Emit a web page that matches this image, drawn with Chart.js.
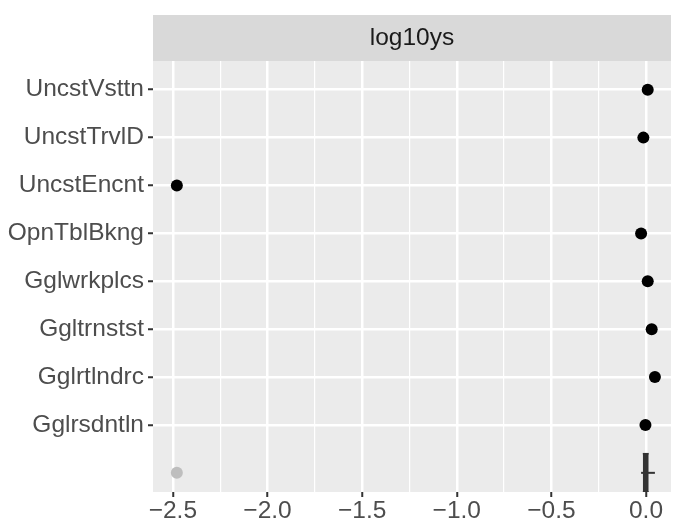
<!DOCTYPE html>
<html>
<head>
<meta charset="utf-8">
<script src="https://cdn.jsdelivr.net/npm/chart.js@4/dist/chart.umd.min.js"></script>
<style>
  html, body { margin: 0; padding: 0; background: #fff; }
  #wrap { width: 677px; height: 530px; }
</style>
</head>
<body>
<div id="wrap"><canvas id="chart"></canvas></div>
<script>
// categories top to bottom, and their log10 values
const categories = ['UncstVsttn', 'UncstTrvlD', 'UncstEncnt', 'OpnTblBkng', 'Gglwrkplcs', 'Ggltrnstst', 'Gglrtlndrc', 'Gglrsdntln'];
const values = [0.009, -0.014, -2.479, -0.026, 0.009, 0.030, 0.047, -0.003];
const xTicks = [-2.5, -2.25, -2.0, -1.75, -1.5, -1.25, -1.0, -0.75, -0.5, -0.25, 0.0];
const stripLabel = 'log10ys';

const FONT = 'Liberation Sans, Arial, sans-serif';
const FS = 24.5;

// y position of each category (top one highest), boxplot sits at 0
const yPos = categories.map((c, i) => categories.length - i);

// boxplot stats (type 7 quantiles, 1.5 IQR whiskers)
const quantile = (arr, p) => {
  const s = [...arr].sort((a, b) => a - b);
  const h = (s.length - 1) * p;
  const lo = Math.floor(h);
  return s[lo] + (h - lo) * ((s[lo + 1] ?? s[lo]) - s[lo]);
};
const q1 = quantile(values, 0.25);
const q3 = quantile(values, 0.75);
const med = quantile(values, 0.5);
const iqr = q3 - q1;
const inside = values.filter(v => v >= q1 - 1.5 * iqr && v <= q3 + 1.5 * iqr);
const wLo = Math.min(...inside);
const wHi = Math.max(...inside);
const outliers = values.filter(v => v < q1 - 1.5 * iqr || v > q3 + 1.5 * iqr);

const isMajor = v => Math.abs(v * 2 - Math.round(v * 2)) < 1e-6;
const fmt = v => (v < 0 ? '\u2212' : '') + Math.abs(v).toFixed(1);

const panelPlugin = {
  id: 'panel',
  beforeDraw(chart) {
    const { ctx, chartArea: a } = chart;
    ctx.save();
    ctx.fillStyle = '#EBEBEB';
    ctx.fillRect(a.left, a.top, a.right - a.left, a.bottom - a.top);
    // facet strip
    ctx.fillStyle = '#D9D9D9';
    ctx.fillRect(a.left, a.top - 46, a.right - a.left, 46);
    ctx.fillStyle = '#1A1A1A';
    ctx.font = `${FS}px ${FONT}`;
    ctx.textAlign = 'center';
    ctx.textBaseline = 'middle';
    ctx.fillText(stripLabel, (a.left + a.right) / 2, a.top - 23);
    ctx.restore();
  }
};

new Chart(document.getElementById('chart'), {
  type: 'scatter',
  data: {
    datasets: [
      {
        label: 'values',
        data: values.map((v, i) => ({ x: v, y: yPos[i] })),
        backgroundColor: '#000',
        borderWidth: 0,
        pointRadius: 6,
        order: 1
      },
      {
        label: 'boxTop',
        type: 'line',
        data: [{ x: q1, y: 0.4 }, { x: q3, y: 0.4 }],
        borderColor: '#333333',
        borderWidth: 1.5,
        backgroundColor: '#333333',
        pointRadius: 0,
        fill: '+1',
        order: 3
      },
      {
        label: 'boxBottom',
        type: 'line',
        data: [{ x: q1, y: -0.4 }, { x: q3, y: -0.4 }],
        borderColor: '#333333',
        borderWidth: 1.5,
        pointRadius: 0,
        fill: false,
        order: 3
      },
      {
        label: 'whisker',
        type: 'line',
        data: [{ x: wLo, y: 0 }, { x: wHi, y: 0 }],
        borderColor: '#333333',
        borderWidth: 2,
        pointRadius: 0,
        fill: false,
        order: 4
      },
      {
        label: 'median',
        type: 'line',
        data: [{ x: med, y: -0.4 }, { x: med, y: 0.4 }],
        borderColor: '#333333',
        borderWidth: 2,
        pointRadius: 0,
        fill: false,
        order: 2
      },
      {
        label: 'outliers',
        data: outliers.map(v => ({ x: v, y: 0 })),
        backgroundColor: '#BEBEBE',
        borderWidth: 0,
        pointRadius: 6,
        order: 1
      }
    ]
  },
  options: {
    responsive: true,
    maintainAspectRatio: false,
    animation: false,
    events: [],
    layout: { padding: { top: 61, right: 5, left: 0, bottom: 0 } },
    plugins: { legend: { display: false }, tooltip: { enabled: false } },
    scales: {
      x: {
        type: 'linear',
        min: -2.605,
        max: 0.132,
        afterBuildTicks: axis => { axis.ticks = xTicks.map(v => ({ value: v })); },
        afterFit: axis => { axis.height = 38; },
        border: { display: false },
        grid: {
          color: '#FFFFFF',
          lineWidth: c => (isMajor(c.tick.value) ? 2.5 : 1.2),
          tickLength: 5,
          tickWidth: 2,
          tickColor: c => (isMajor(c.tick.value) ? '#333333' : 'rgba(0,0,0,0)')
        },
        ticks: {
          autoSkip: false,
          maxRotation: 0,
          padding: 0,
          color: '#4D4D4D',
          font: { family: FONT, size: FS },
          callback: v => (isMajor(v) ? fmt(v) : '')
        }
      },
      y: {
        type: 'linear',
        min: -0.4,
        max: 8.6,
        afterBuildTicks: axis => { axis.ticks = yPos.map(v => ({ value: v })); },
        afterFit: axis => { axis.width = 153; },
        border: { display: false },
        grid: {
          color: '#FFFFFF',
          lineWidth: 2.5,
          tickLength: 5,
          tickWidth: 2,
          tickColor: '#333333'
        },
        ticks: {
          autoSkip: false,
          padding: 4,
          color: '#4D4D4D',
          font: { family: FONT, size: FS },
          callback: v => categories[categories.length - v] ?? ''
        }
      }
    }
  },
  plugins: [panelPlugin]
});
</script>
</body>
</html>
